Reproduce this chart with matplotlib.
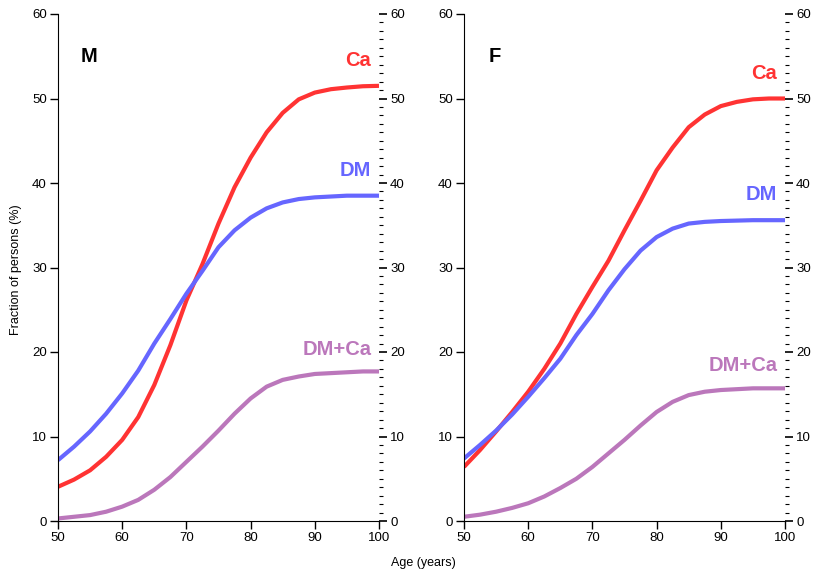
import numpy as np
import matplotlib.pyplot as plt
from matplotlib.ticker import MultipleLocator

plt.rcParams['font.family'] = ['Liberation Sans', 'DejaVu Sans']

# yaş noktaları
age = [50, 52.5, 55, 57.5, 60, 62.5, 65, 67.5, 70, 72.5, 75, 77.5, 80, 82.5, 85, 87.5, 90, 92.5, 95, 97.5, 100]

# erkek (M)
m_ca   = [4.05, 4.9, 6.0, 7.6, 9.6, 12.3, 16.1, 20.8, 26.1, 30.4, 35.2, 39.5, 43.0, 46.0, 48.3, 49.9, 50.7, 51.1, 51.3, 51.45, 51.5]
m_dm   = [7.2, 8.8, 10.6, 12.7, 15.1, 17.8, 21.0, 23.9, 26.9, 29.6, 32.4, 34.4, 35.9, 37.0, 37.7, 38.1, 38.3, 38.4, 38.5, 38.5, 38.5]
m_dmca = [0.3, 0.5, 0.7, 1.1, 1.7, 2.5, 3.7, 5.2, 7.0, 8.8, 10.7, 12.7, 14.5, 15.9, 16.7, 17.1, 17.4, 17.5, 17.6, 17.7, 17.7]

# kadın (F)
f_ca   = [6.4, 8.4, 10.6, 12.9, 15.3, 18.0, 21.0, 24.5, 27.7, 30.8, 34.4, 37.9, 41.5, 44.2, 46.6, 48.1, 49.1, 49.6, 49.9, 50.0, 50.0]
f_dm   = [7.4, 9.0, 10.7, 12.6, 14.7, 16.9, 19.2, 22.0, 24.5, 27.3, 29.8, 32.0, 33.6, 34.6, 35.2, 35.4, 35.5, 35.55, 35.6, 35.6, 35.6]
f_dmca = [0.5, 0.75, 1.1, 1.55, 2.1, 2.9, 3.9, 5.0, 6.4, 8.0, 9.6, 11.3, 12.9, 14.1, 14.9, 15.3, 15.5, 15.6, 15.7, 15.7, 15.7]

renk_ca = "#ff3333"
renk_dm = "#6666ff"
renk_dmca = "#bb77bb"

fig = plt.figure(figsize=(8.15, 5.73), dpi=100)

panels = [
    ("M", 58 / 815, m_ca, m_dm, m_dmca, [54.5, 41.5, 20.3]),
    ("F", 464 / 815, f_ca, f_dm, f_dmca, [53.0, 38.6, 18.4]),
]

for harf, left, ca, dm, dmca, lab_y in panels:
    ax = fig.add_axes([left, 52 / 573, 321 / 815, 507 / 573])
    for seri, renk in [(ca, renk_ca), (dm, renk_dm), (dmca, renk_dmca)]:
        ax.plot(age, seri, color=renk, lw=3.0, solid_capstyle="butt", solid_joinstyle="round")
    ax.set_xlim(50, 100)
    ax.set_ylim(0, 60)
    ax.spines["top"].set_visible(False)
    ax.spines["right"].set_visible(False)
    ax.xaxis.set_major_locator(MultipleLocator(10))
    ax.yaxis.set_major_locator(MultipleLocator(10))
    ax.tick_params(direction="out", length=6, width=1, labelsize=9.5, pad=2)

    # sağ eksen, küçük çentikli
    ax2 = ax.twinx()
    ax2.set_ylim(0, 60)
    for s in ["top", "left", "bottom", "right"]:
        ax2.spines[s].set_visible(False)
    ax2.yaxis.set_major_locator(MultipleLocator(10))
    ax2.yaxis.set_minor_locator(MultipleLocator(1))
    ax2.tick_params(which="major", direction="out", length=6, width=1.2, labelsize=9.5, pad=2)
    ax2.tick_params(which="minor", direction="out", length=3, width=0.8)

    ax.text(54.8, 55, harf, fontsize=14.5, fontweight="bold", ha="center", va="center")
    ax.text(98.8, lab_y[0], "Ca", color=renk_ca, fontsize=14.5, fontweight="bold", ha="right", va="center")
    ax.text(98.8, lab_y[1], "DM", color=renk_dm, fontsize=14.5, fontweight="bold", ha="right", va="center")
    ax.text(98.8, lab_y[2], "DM+Ca", color=renk_dmca, fontsize=14.5, fontweight="bold", ha="right", va="center")

fig.text(16 / 815, 1 - 270 / 573, "Fraction of persons (%)", rotation=90, fontsize=9,
         ha="center", va="center")
fig.text(423 / 815, 1 - 563 / 573, "Age (years)", fontsize=9, ha="center", va="center")

plt.savefig("out.png", dpi=100)
